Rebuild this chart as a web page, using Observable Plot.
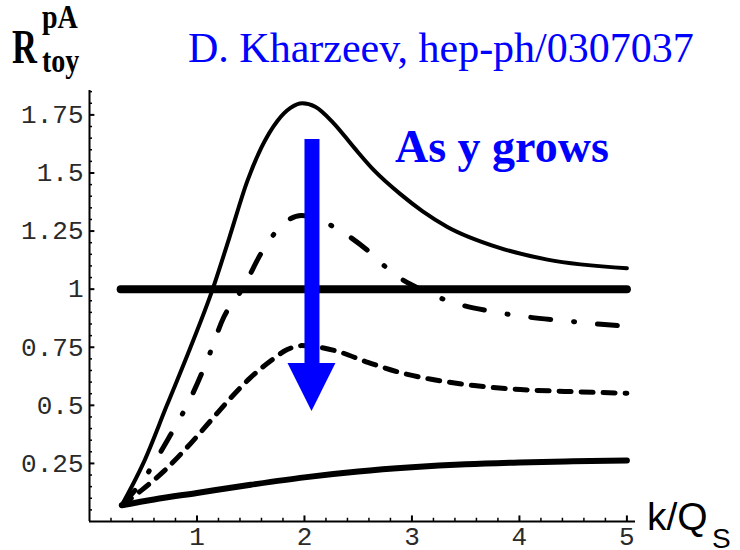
<!DOCTYPE html>
<html><head><meta charset="utf-8">
<script src="https://cdn.jsdelivr.net/npm/d3@7"></script>
<script src="https://cdn.jsdelivr.net/npm/@observablehq/plot@0.6"></script>
<style>body{margin:0;background:#fff}#chart{width:740px;height:550px}</style>
</head><body><div id="chart"></div>
<script>
// Curve data (k/Q_S, R_toy^pA)
const kTop = [0.3, 0.5, 0.72, 0.94, 1.146, 1.3, 1.47, 1.6, 1.75, 1.87, 1.98, 2.1, 2.27, 2.46, 2.65, 2.89, 3.1, 3.33, 3.8, 4.26, 5.0];
const vTop = [0.07, 0.25, 0.5, 0.75, 1.0, 1.22, 1.467, 1.61, 1.725, 1.78, 1.80, 1.785, 1.715, 1.61, 1.51, 1.41, 1.335, 1.268, 1.18, 1.127, 1.09];

const kDashDot = [0.3, 0.5, 0.75, 0.95, 1.1, 1.25, 1.42, 1.63, 1.84, 1.97, 2.1, 2.28, 2.59, 2.83, 3.1, 3.42, 3.73, 4.08, 4.4, 4.73, 5.0];
const vDashDot = [0.07, 0.18, 0.37, 0.54, 0.70, 0.88, 1.0, 1.18, 1.295, 1.317, 1.305, 1.266, 1.166, 1.066, 0.995, 0.937, 0.905, 0.88, 0.865, 0.85, 0.84];

const kDash = [0.3, 0.48, 0.7, 0.88, 1.13, 1.32, 1.5, 1.69, 1.84, 1.97, 2.28, 2.59, 2.9, 3.18, 3.58, 4.01, 4.42, 5.0];
const vDash = [0.07, 0.133, 0.22, 0.305, 0.435, 0.535, 0.62, 0.693, 0.74, 0.757, 0.736, 0.685, 0.64, 0.612, 0.585, 0.568, 0.56, 0.552];

const kBottom = [0.3, 0.6, 1.0, 1.5, 2.0, 2.5, 3.0, 3.5, 4.0, 4.5, 5.0];
const vBottom = [0.07, 0.095, 0.123, 0.158, 0.19, 0.215, 0.233, 0.246, 0.254, 0.259, 0.263];

const kFlat = [0.29, 5.0];
const vFlat = [1, 1];

// Arrow annotation (data coordinates)
const arrowK = [2.07];
const arrowShaft = [0.68, 1.644];
const headK = [1.847, 2.07, 2.293];
const headBase = [0.68, 0.68, 0.68];
const headTip = [0.68, 0.473, 0.68];

// Axes
const yTicks = [0.25, 0.5, 0.75, 1, 1.25, 1.5, 1.75];
const yTickLabels = ["0.25", "0.5", "0.75", "1", "1.25", "1.5", "1.75"];
const yMinor = d3.range(0.05, 1.851, 0.05).filter(v => Math.abs(v / 0.25 - Math.round(v / 0.25)) > 1e-6);
const xTicks = [1, 2, 3, 4, 5];
const xTickLabels = ["1", "2", "3", "4", "5"];
const xMinor = d3.range(0.2, 5.01, 0.2).filter(v => Math.abs(v - Math.round(v)) > 1e-6);

const toRows = (ks, vs) => ks.map((k, i) => ({k, v: vs[i]}));

const lineStyle = {x: "k", y: "v", curve: "monotone-x", stroke: "#000", strokeLinecap: "round", strokeLinejoin: "round"};

const chart = Plot.plot({
  width: 740, height: 550,
  marginLeft: 89, marginRight: 105, marginTop: 90, marginBottom: 29,
  x: {domain: [0, 5.08], axis: null},
  y: {domain: [0, 1.855], axis: null},
  style: {background: "white", overflow: "visible"},
  marks: [
    Plot.ruleX([0], {stroke: "#000", strokeWidth: 2}),
    Plot.ruleY([0], {stroke: "#000", strokeWidth: 2}),
    Plot.ruleY(yTicks, {y: d => d, x1: () => 0, x2: () => 0.05, stroke: "#000", strokeWidth: 2}),
    Plot.ruleY(yMinor, {y: d => d, x1: () => 0, x2: () => 0.028, stroke: "#000", strokeWidth: 1.5}),
    Plot.ruleX(xTicks, {x: d => d, y1: () => 0, y2: () => 0.024, stroke: "#000", strokeWidth: 2}),
    Plot.ruleX(xMinor, {x: d => d, y1: () => 0, y2: () => 0.014, stroke: "#000", strokeWidth: 1.5}),
    Plot.text(yTicks, {x: () => 0, y: d => d, text: (d, i) => yTickLabels[i], textAnchor: "end", dx: -6,
      fontSize: 26, fontFamily: "Liberation Mono", fill: "#2a2a2a", ariaLabel: "ytick"}),
    Plot.text(xTicks, {x: d => d, y: () => 0, text: (d, i) => xTickLabels[i], lineAnchor: "top", dy: 5,
      fontSize: 26, fontFamily: "Liberation Mono", fill: "#2a2a2a", ariaLabel: "xtick"}),
    Plot.line(toRows(kFlat, vFlat), {...lineStyle, curve: "linear", strokeWidth: 8}),
    Plot.line(toRows(kTop, vTop), {...lineStyle, strokeWidth: 4}),
    Plot.line(toRows(kDashDot, vDashDot), {...lineStyle, strokeWidth: 5, strokeDasharray: "20,23,1,23"}),
    Plot.line(toRows(kDash, vDash), {...lineStyle, strokeWidth: 5, strokeDasharray: "12,10"}),
    Plot.line(toRows(kBottom, vBottom), {...lineStyle, strokeWidth: 6}),
    Plot.ruleX(arrowK, {x: d => d, y1: () => arrowShaft[0], y2: () => arrowShaft[1], stroke: "#0000ff", strokeWidth: 15}),
    Plot.areaY(headK.map((k, i) => ({k, b: headBase[i], t: headTip[i]})), {x: "k", y1: "b", y2: "t", fill: "#0000ff", curve: "linear"})
  ]
});

document.getElementById("chart").appendChild(chart);
const svg = d3.select(chart);

// stretch tick labels vertically like the original's condensed font
svg.selectAll('g[aria-label="ytick"] text, g[aria-label="xtick"] text').each(function () {
  const t = this.getAttribute("transform");
  if (t) this.setAttribute("transform", t + " scale(1,1.15)");
});

const addText = (txt, tx, ty, opts) => {
  return svg.append("text")
    .attr("transform", `translate(${tx},${ty})` + (opts.sx ? ` scale(${opts.sx},1)` : ""))
    .attr("text-anchor", "start")
    .attr("font-family", opts.family)
    .attr("font-size", opts.size)
    .attr("font-weight", opts.weight || "normal")
    .attr("fill", opts.fill || "#000")
    .text(txt);
};

addText("D. Kharzeev, hep-ph/0307037", 188, 62, {family: "Liberation Serif", size: 42, fill: "#0000ff"});
addText("R", 12, 63, {family: "Liberation Serif", size: 48, weight: "bold", sx: 0.72});
addText("pA", 42, 28, {family: "Liberation Serif", size: 33, weight: "bold", sx: 0.85});
addText("toy", 42, 72, {family: "Liberation Serif", size: 33, weight: "bold", sx: 0.85});
addText("As y grows", 395, 162, {family: "Liberation Serif", size: 46, weight: "bold", fill: "#0000ff"});
addText("k/Q", 647, 530, {family: "Liberation Sans", size: 39});
addText("S", 712, 548, {family: "Liberation Sans", size: 28});
</script></body></html>
